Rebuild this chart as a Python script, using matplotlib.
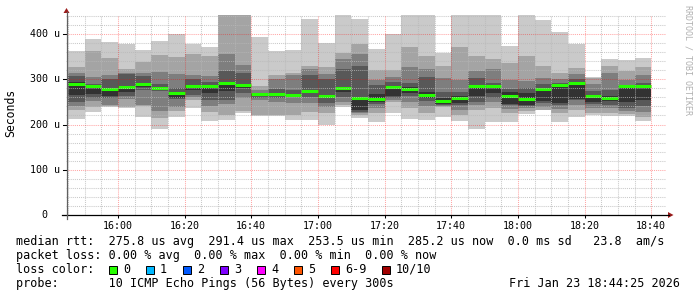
import matplotlib
matplotlib.use('Agg')
import matplotlib.pyplot as plt
from matplotlib.lines import Line2D
from matplotlib.patches import Rectangle, Polygon

# 10 pings per 5 minute step, sorted by rank (microseconds), 15:45 .. 18:40
p1 = [213, 228, 238, 236, 217, 191, 217, 237, 208, 210, 225, 219, 219, 210, 210, 199, 238, 214,
      206, 226, 212, 210, 216, 208, 190, 206, 206, 223, 231, 206, 216, 221, 219, 219, 208]
p2 = [232, 239, 240, 239, 240, 215, 230, 254, 228, 221, 230, 222, 221, 221, 228, 225, 244, 220,
      226, 250, 237, 225, 238, 222, 232, 236, 225, 230, 232, 225, 232, 226, 226, 224, 216]
p3 = [240, 253, 243, 256, 242, 230, 239, 260, 241, 245, 259, 254, 250, 247, 247, 239, 250, 225,
      236, 254, 250, 240, 241, 232, 243, 250, 235, 236, 238, 235, 243, 236, 236, 230, 228]
p4 = [250, 258, 259, 263, 276, 274, 256, 265, 254, 254, 269, 258, 259, 261, 261, 248, 260, 228,
      245, 258, 262, 252, 244, 242, 250, 258, 242, 240, 248, 244, 254, 246, 244, 236, 240]
p5 = [265, 267, 263, 272, 282, 277, 258, 276, 269, 275, 280, 262, 263, 263, 270, 260, 272, 232,
      250, 263, 270, 259, 246, 248, 262, 269, 245, 243, 253, 248, 256, 250, 252, 250, 254]
p6 = [295, 287, 280, 285, 292, 283, 272, 287, 286, 293, 290, 268, 270, 268, 276, 266, 283, 260,
      268, 285, 282, 272, 258, 264, 288, 287, 272, 269, 280, 290, 293, 265, 264, 288, 287]
p7 = [307, 290, 301, 312, 307, 290, 280, 300, 295, 318, 313, 270, 278, 276, 309, 300, 322, 329,
      287, 295, 292, 304, 272, 272, 302, 292, 278, 280, 290, 292, 300, 275, 276, 288, 292]
p8 = [314, 306, 309, 314, 314, 317, 312, 309, 307, 356, 331, 276, 300, 310, 323, 312, 344, 356,
      298, 306, 326, 322, 303, 298, 318, 322, 298, 296, 302, 300, 312, 290, 313, 298, 309]
p9 = [328, 362, 347, 323, 339, 354, 350, 355, 351, 450, 450, 285, 309, 314, 329, 327, 359, 379,
      320, 320, 372, 351, 329, 372, 351, 344, 335, 351, 329, 313, 324, 302, 329, 318, 328]
p10 = [362, 389, 382, 379, 365, 385, 400, 379, 371, 450, 450, 393, 362, 365, 433, 380, 450, 433,
       366, 400, 450, 450, 359, 450, 450, 450, 373, 450, 431, 404, 379, 306, 344, 343, 348]
median = [290, 285, 278, 283, 290, 280, 270, 285, 284, 291, 288, 267, 267, 265, 275, 263, 281, 258,
          256, 283, 279, 265, 253, 258, 284, 285, 264, 256, 278, 288, 291, 262, 259, 286, 285]

tick_labels = ['16:00', '16:20', '16:40', '17:00', '17:20', '17:40', '18:00', '18:20', '18:40']
ytick_vals = [0, 100, 200, 300, 400]
ytick_labels = ['0', '100 u', '200 u', '300 u', '400 u']

loss_labels = ['0', '1', '2', '3', '4', '5', '6-9', '10/10']
loss_colors = ['#26ff00', '#00b8ff', '#0059ff', '#7e00ff', '#ff00ff', '#ff5500', '#ff0000', '#a10000']

W, H = 697, 297
MONO = 'DejaVu Sans Mono'


def fx(px):
    return px / W


def fy(py):
    return 1 - py / H


fig = plt.figure(figsize=(W / 100, H / 100), dpi=100)
fig.patch.set_facecolor('white')
ax = fig.add_axes([fx(66), fy(215), 600 / W, 200 / H])

t0 = 15 * 60 + 44 + 25 / 60  # minutes, 15:44:25
ax.set_xlim(t0, t0 + 180)
ax.set_ylim(0, 442)

lefts = [945 + 5 * i for i in range(len(median))]
ranks = [p1, p2, p3, p4, p5, p6, p7, p8, p9, p10]
greys = ['#cacaca', '#a4a4a4', '#7e7e7e', '#585858', '#323232']
for j in range(5):
    lo = ranks[j]
    hi = ranks[9 - j]
    ax.bar(lefts, [h - l for h, l in zip(hi, lo)], bottom=lo, width=5, align='edge',
           color=greys[j], linewidth=0, zorder=1)

ax.hlines(median, lefts, [l + 5 for l in lefts], colors='#26ff00', lw=2.2, zorder=3)

# grid drawn over the smoke like rrdtool does
dot = (0, (1, 1))
for v in range(20, 442, 20):
    if v % 100:
        ax.axhline(v, color='#b8b8b8', alpha=0.75, lw=0.75, ls=dot, zorder=4)
major_x = [16 * 60 + 20 * i for i in range(len(tick_labels))]
for m in range(945, int(t0 + 180), 5):
    if m not in major_x:
        ax.axvline(m, color='#b8b8b8', alpha=0.75, lw=0.75, ls=dot, zorder=4)
for v in ytick_vals[1:]:
    ax.axhline(v, color='#ff0000', alpha=0.35, lw=0.75, ls=dot, zorder=5)
for m in major_x:
    ax.axvline(m, color='#ff0000', alpha=0.35, lw=0.75, ls=dot, zorder=5)

for s in ax.spines.values():
    s.set_visible(False)
ax.set_xticks(major_x)
ax.set_xticklabels(tick_labels, fontfamily=MONO, fontsize=7.2)
ax.tick_params(axis='x', length=2.5, width=0.75, pad=1.5, color='black')
ax.set_yticks([])
ax.set_facecolor('white')

# y tick labels, right aligned in monospace columns
for v, lab in zip(ytick_vals, ytick_labels):
    py = 215 - v * 200 / 442
    right = 59.5 if lab != '0' else 47
    fig.text(fx(right), fy(py), lab, ha='right', va='center', fontfamily=MONO, fontsize=7.2)
    fig.add_artist(Line2D([fx(63), fx(66)], [fy(py), fy(py)], color='black', lw=0.75))

# axis lines with arrows
fig.add_artist(Line2D([fx(62), fx(669)], [fy(215), fy(215)], color='black', lw=0.9))
fig.add_artist(Line2D([fx(66.5), fx(66.5)], [fy(219), fy(12)], color='#606060', lw=0.9))
fig.add_artist(Polygon([[fx(668), fy(212)], [fx(668), fy(218)], [fx(673.5), fy(215)]],
                       closed=True, color='#9b1c1c', lw=0))
fig.add_artist(Polygon([[fx(63.5), fy(13)], [fx(69.5), fy(13)], [fx(66.5), fy(8)]],
                       closed=True, color='#9b1c1c', lw=0))

fig.text(fx(11), fy(113), 'Seconds', rotation=90, ha='center', va='center',
         fontfamily=MONO, fontsize=8.3)
fig.text(fx(688), fy(5), 'RRDTOOL / TOBI OETIKER', rotation=270, ha='center', va='top',
         fontfamily=MONO, fontsize=6.0, color='#b0b0b0')

# legend block
fs = 8.5
fig.text(fx(16), fy(241.7),
         'median rtt:  275.8 us avg  291.4 us max  253.5 us min  285.2 us now  0.0 ms sd   23.8  am/s',
         ha='left', va='center', fontfamily=MONO, fontsize=fs)
fig.text(fx(16), fy(255.3), 'packet loss: 0.00 % avg  0.00 % max  0.00 % min  0.00 % now',
         ha='left', va='center', fontfamily=MONO, fontsize=fs)
fig.text(fx(16), fy(269.3), 'loss color:', ha='left', va='center', fontfamily=MONO, fontsize=fs)
box_x = [109, 146, 183, 220, 257, 294, 331, 381.5]
for bx, lab, col in zip(box_x, loss_labels, loss_colors):
    fig.add_artist(Rectangle((fx(bx), fy(273.5)), 8 / W, 8 / H, facecolor=col,
                             edgecolor='black', lw=0.7))
    fig.text(fx(bx + 14), fy(269.3), lab, ha='left', va='center', fontfamily=MONO, fontsize=fs)
fig.text(fx(16), fy(283.3), 'probe:       10 ICMP Echo Pings (56 Bytes) every 300s',
         ha='left', va='center', fontfamily=MONO, fontsize=fs)
fig.text(fx(680), fy(283.3), 'Fri Jan 23 18:44:25 2026', ha='right', va='center',
         fontfamily=MONO, fontsize=fs)

fig.savefig('out.png', dpi=100, facecolor='white')
